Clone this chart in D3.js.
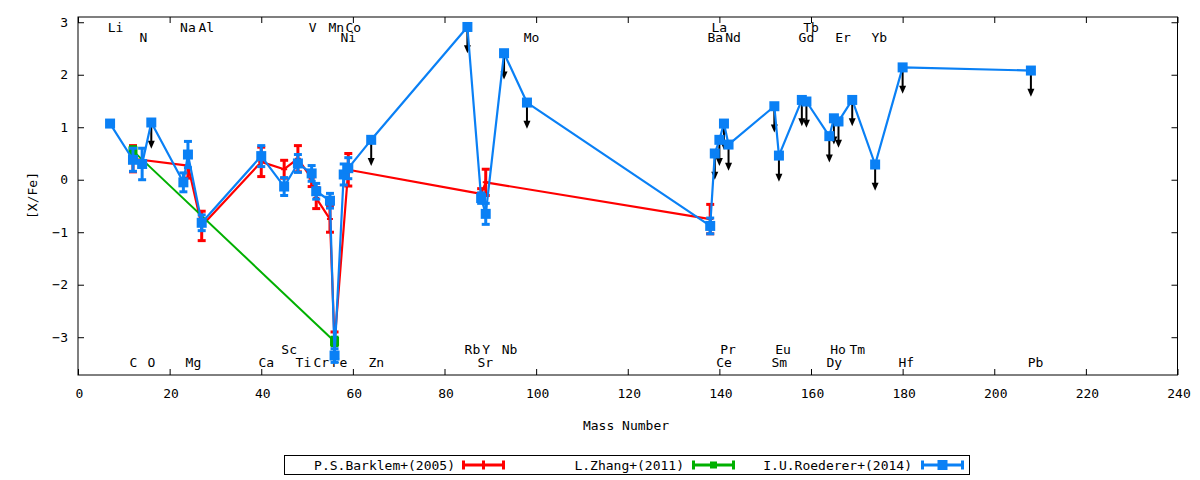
<!DOCTYPE html>
<html><head><meta charset="utf-8">
<script src="https://cdn.jsdelivr.net/npm/d3@7"></script>
<style>
body{margin:0;background:#fff}
svg{display:block}
text{font-family:"DejaVu Sans Mono",monospace;font-size:13px;fill:#000}
</style>
</head><body>
<svg id="chart" width="1200" height="480"></svg>
<script>
// ---- data ----
const xTicks = [0,20,40,60,80,100,120,140,160,180,200,220,240];
const yTicks = [-3,-2,-1,0,1,2,3];

const seriesNames = ["P.S.Barklem+(2005)","L.Zhang+(2011)","I.U.Roederer+(2014)"];
const seriesColors = ["#ff0000","#00b000","#0a80f5"];

const barklemMass  = [12, 24, 27, 40, 45, 48, 51, 52, 55, 56, 59, 88, 89, 138];
const barklemValue = [0.40, 0.27, -0.88, 0.34, 0.20, 0.40, 0.02, -0.35, -0.75, -3.10, 0.19, -0.27, -0.05, -0.75];
const barklemError = [0.25, 0.24, 0.28, 0.28, 0.17, 0.25, 0.15, 0.20, 0.25, 0.20, 0.31, 0.10, 0.25, 0.28];

const zhangMass  = [12, 56];
const zhangValue = [0.55, -3.08];
const zhangError = [0.08, 0.08];

const roedererMass  = [7, 12, 14, 16, 23, 24, 27, 40, 45, 48, 51, 52, 55, 56, 58, 59, 64, 85, 88, 89, 93, 98,
                       138, 139, 140, 141, 142, 152, 153, 158, 159, 164, 165, 166, 169, 174, 180, 208];
const roedererValue = [1.07, 0.38, 0.30, 1.09, -0.05, 0.48, -0.82, 0.45, -0.13, 0.31, 0.12, -0.22, -0.40, -3.35, 0.10, 0.22, 0.76, 2.91, -0.35, -0.65, 2.41, 1.47,
                       -0.88, 0.50, 0.76, 1.07, 0.67, 1.40, 0.46, 1.52, 1.49, 0.83, 1.17, 1.11, 1.52, 0.29, 2.14, 2.08];
const roedererError = [0.05, 0.22, 0.30, 0, 0.18, 0.25, 0.15, 0.20, 0.17, 0.17, 0.15, 0.15, 0.14, 0.13, 0.20, 0.20, 0, 0, 0.10, 0.20, 0, 0,
                       0.15, 0, 0, 0, 0, 0, 0, 0, 0, 0, 0, 0, 0, 0, 0, 0];
const roedererUpperLimit = [0,0,0,1,0,0,0,0,0,0,0,0,0,0,0,0,1,1,0,0,1,1,
                            0,1,1,1,1,1,1,1,1,1,1,1,1,1,1,1];
const limitArrowLength = 0.5;

const labelSymbols = ["Li","Na","Al","V","Mn","Co","La","Tb",
                      "N","Ni","Mo","Ba","Nd","Gd","Er","Yb",
                      "Sc","Rb","Y","Nb","Pr","Eu","Ho","Tm",
                      "C","O","Mg","Ca","Ti","Cr","Fe","Zn","Sr","Ce","Sm","Dy","Hf","Pb"];
const labelMass = [8.2, 24.0, 28.0, 51.2, 56.4, 60.1, 140.0, 160.0,
                   14.3, 59.0, 99.0, 139.1, 143.0, 159.0, 167.0, 174.9,
                   46.1, 86.1, 89.1, 94.2, 141.9, 153.9, 165.9, 170.1,
                   12.1, 16.0, 25.2, 41.1, 49.2, 53.1, 57.1, 65.1, 88.9, 141.0, 153.1, 165.1, 180.8, 209.0];
const labelLevel = [2.9,2.9,2.9,2.9,2.9,2.9,2.9,2.9,
                    2.71,2.71,2.71,2.71,2.71,2.71,2.71,2.71,
                    -3.23,-3.23,-3.23,-3.23,-3.23,-3.23,-3.23,-3.23,
                    -3.49,-3.49,-3.49,-3.49,-3.49,-3.49,-3.49,-3.49,-3.49,-3.49,-3.49,-3.49,-3.49,-3.49];

// ---- drawing ----
const svg = d3.select("#chart");
const x = d3.scaleLinear().domain([0,240]).range([78,1177.5]);
const y = d3.scaleLinear().domain([-3.72,3.1]).range([375,17]);
const T = 6;

// axes (ticks inward, mirrored)
const gB = svg.append("g").attr("transform",`translate(0,${y.range()[0]})`)
  .call(d3.axisBottom(x).tickValues(xTicks).tickSizeInner(-T).tickSizeOuter(0).tickPadding(12).tickFormat(d3.format("d")));
const gT = svg.append("g").attr("transform",`translate(0,${y.range()[1]})`)
  .call(d3.axisTop(x).tickValues(xTicks).tickSizeInner(-T).tickSizeOuter(0).tickFormat(""));
const gL = svg.append("g").attr("transform",`translate(${x.range()[0]},0)`)
  .call(d3.axisLeft(y).tickValues(yTicks).tickSizeInner(-T).tickSizeOuter(0).tickPadding(11).tickFormat(d3.format("d")));
const gR = svg.append("g").attr("transform",`translate(${x.range()[1]},0)`)
  .call(d3.axisRight(y).tickValues(yTicks).tickSizeInner(-T).tickSizeOuter(0).tickFormat(""));
[gB,gT,gL,gR].forEach(g=>{
  g.select(".domain").remove();
  g.selectAll("line").attr("stroke","#000");
  g.selectAll("text").attr("font-family",null).attr("font-size",null).style("font-family",'"DejaVu Sans Mono",monospace').style("font-size","13px");
});
gB.selectAll("text").attr("dy","0.35em").attr("y",18).attr("dx",1);
gL.selectAll("text").attr("x",-10);

svg.append("rect").attr("x",x.range()[0]).attr("y",y.range()[1])
  .attr("width",x.range()[1]-x.range()[0]).attr("height",y.range()[0]-y.range()[1])
  .attr("fill","none").attr("stroke","#000").attr("stroke-width",1);

// axis titles
svg.append("text").attr("x",626).attr("y",430).attr("text-anchor","middle").text("Mass Number");
svg.append("text").attr("transform",`translate(37,${y(-0.3)}) rotate(-90)`).attr("text-anchor","middle").text("[X/Fe]");

// element labels
svg.append("g").selectAll("text").data(labelSymbols).join("text")
  .attr("x",(d,i)=>x(labelMass[i])).attr("y",(d,i)=>y(labelLevel[i]))
  .attr("dy","0.35em").attr("text-anchor","middle").text(d=>d);

const plot = svg.append("g");

function drawSeries(mass, value, err, color, lw, marker){
  const pts = mass.map((m,i)=>({m, v:value[i], e:err[i]}));
  const line = d3.line().x(d=>x(d.m)).y(d=>y(d.v));
  const g = plot.append("g");
  g.append("path").datum(pts).attr("d",line).attr("fill","none").attr("stroke",color).attr("stroke-width",lw).attr("stroke-linejoin","round");
  const eb = g.append("g").selectAll("g").data(pts.filter(d=>d.e>0)).join("g");
  eb.append("line").attr("x1",d=>x(d.m)).attr("x2",d=>x(d.m)).attr("y1",d=>y(d.v-d.e)).attr("y2",d=>y(d.v+d.e)).attr("stroke",color).attr("stroke-width",3);
  eb.append("line").attr("x1",d=>x(d.m)-4).attr("x2",d=>x(d.m)+4).attr("y1",d=>y(d.v-d.e)).attr("y2",d=>y(d.v-d.e)).attr("stroke",color).attr("stroke-width",3);
  eb.append("line").attr("x1",d=>x(d.m)-4).attr("x2",d=>x(d.m)+4).attr("y1",d=>y(d.v+d.e)).attr("y2",d=>y(d.v+d.e)).attr("stroke",color).attr("stroke-width",3);
  marker(g, pts.map(d=>[x(d.m),y(d.v)]), color);
  return g;
}
function plusMarker(g, pts, color){
  g.append("g").selectAll("path").data(pts).join("path")
    .attr("d",d=>`M${d[0]-3},${d[1]}H${d[0]+3}M${d[0]},${d[1]-3}V${d[1]+3}`).attr("stroke",color).attr("stroke-width",2);
}
function squareMarker(size){
  return (g, pts, color)=>g.append("g").selectAll("rect").data(pts).join("rect")
    .attr("x",d=>d[0]-size/2).attr("y",d=>d[1]-size/2).attr("width",size).attr("height",size).attr("fill",color);
}

drawSeries(barklemMass, barklemValue, barklemError, seriesColors[0], 2.2, plusMarker);
drawSeries(zhangMass, zhangValue, zhangError, seriesColors[1], 2, squareMarker(9));

// upper-limit arrows
const lim = roedererMass.map((m,i)=>({m, v:roedererValue[i], u:roedererUpperLimit[i]})).filter(d=>d.u);
const ag = plot.append("g");
ag.selectAll("line").data(lim).join("line")
  .attr("x1",d=>x(d.m)).attr("x2",d=>x(d.m)).attr("y1",d=>y(d.v)).attr("y2",d=>y(d.v-limitArrowLength)-6)
  .attr("stroke","#000").attr("stroke-width",2);
ag.selectAll("path").data(lim).join("path")
  .attr("d",d=>{const X=x(d.m),Y=y(d.v-limitArrowLength);return `M${X},${Y}L${X-3.5},${Y-8}L${X+3.5},${Y-8}Z`;})
  .attr("fill","#000");

drawSeries(roedererMass, roedererValue, roedererError, seriesColors[2], 2.2, squareMarker(10));

// legend
const lg = svg.append("g");
lg.append("rect").attr("x",284.5).attr("y",455.5).attr("width",685).attr("height",19).attr("fill","#fff").attr("stroke","#000");
const legTextEnd = [455, 684, 912];
const legSampleStart = [462, 692, 921];
seriesNames.forEach((n,i)=>{
  lg.append("text").attr("x",legTextEnd[i]).attr("y",469.5).attr("text-anchor","end").text(n);
  const x0 = legSampleStart[i], x1 = x0+43, yc = 465, c = seriesColors[i];
  lg.append("line").attr("x1",x0).attr("x2",x1).attr("y1",yc).attr("y2",yc).attr("stroke",c).attr("stroke-width",3);
  [x0+1.5,x1-1.5].forEach(xx=>lg.append("line").attr("x1",xx).attr("x2",xx).attr("y1",yc-4.5).attr("y2",yc+4.5).attr("stroke",c).attr("stroke-width",3));
  const mx = (x0+x1)/2;
  if(i===0) lg.append("line").attr("x1",mx).attr("x2",mx).attr("y1",yc-4.5).attr("y2",yc+4.5).attr("stroke",c).attr("stroke-width",3);
  else { const s = i===1?7:10; lg.append("rect").attr("x",mx-s/2).attr("y",yc-s/2).attr("width",s).attr("height",s).attr("fill",c); }
});
</script>
</body></html>
